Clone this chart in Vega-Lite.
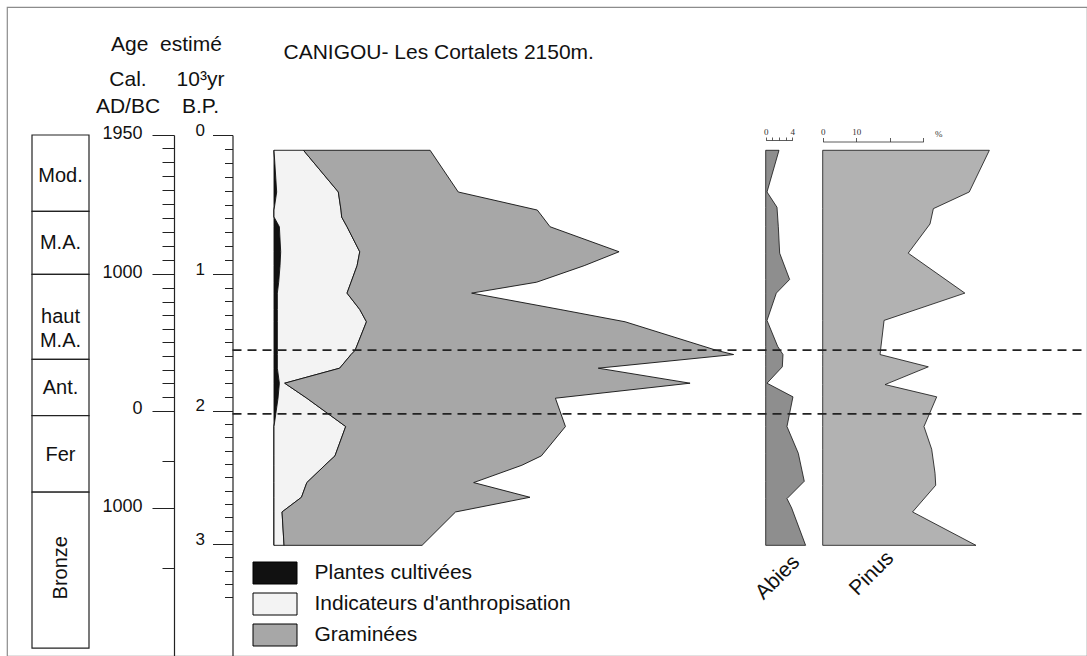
{
 "$schema": "https://vega.github.io/schema/vega-lite/v6.json",
 "width": 1080,
 "height": 649,
 "autosize": {"type": "none"},
 "padding": {"left": 7, "top": 7, "right": 0, "bottom": 0},
 "background": "#ffffff",
 "config": {
  "view": {"stroke": "#8c8c8c", "strokeWidth": 1.2},
  "font": "Liberation Sans",
  "axis": {"grid": false, "labelFont": "Liberation Sans", "titleFont": "Liberation Sans", "titleFontWeight": "normal", "titleColor": "#111111", "labelColor": "#111111", "labelOverlap": false, "labelFlush": false, "labelBound": false, "domainColor": "#222222", "tickColor": "#222222"}
 },
 "datasets": {
  "periods": [
   {"name": "Mod.", "start": 1950, "end": 1450},
   {"name": "M.A.", "start": 1450, "end": 1000},
   {"name": "haut\nM.A.", "start": 1000, "end": 375},
   {"name": "Ant.", "start": 375, "end": -50},
   {"name": "Fer", "start": -50, "end": -830},
   {"name": "Bronze", "start": -830, "end": -2170}
  ],
  "main": [
   {"age": 0.11, "taxon": "Plantes cultivées", "pct": 0}, {"age": 0.11, "taxon": "Indicateurs d'anthropisation", "pct": 4.4}, {"age": 0.11, "taxon": "Graminées", "pct": 18.9},
   {"age": 0.41, "taxon": "Plantes cultivées", "pct": 0.4}, {"age": 0.41, "taxon": "Indicateurs d'anthropisation", "pct": 9.2}, {"age": 0.41, "taxon": "Graminées", "pct": 17.9},
   {"age": 0.54, "taxon": "Plantes cultivées", "pct": 0}, {"age": 0.54, "taxon": "Indicateurs d'anthropisation", "pct": 10.0}, {"age": 0.54, "taxon": "Graminées", "pct": 29.3},
   {"age": 0.59, "taxon": "Plantes cultivées", "pct": 0}, {"age": 0.59, "taxon": "Indicateurs d'anthropisation", "pct": 10.1}, {"age": 0.59, "taxon": "Graminées", "pct": 30.0},
   {"age": 0.66, "taxon": "Plantes cultivées", "pct": 0.8}, {"age": 0.66, "taxon": "Indicateurs d'anthropisation", "pct": 10.1}, {"age": 0.66, "taxon": "Graminées", "pct": 30.3},
   {"age": 0.84, "taxon": "Plantes cultivées", "pct": 1.0}, {"age": 0.84, "taxon": "Indicateurs d'anthropisation", "pct": 11.8}, {"age": 0.84, "taxon": "Graminées", "pct": 38.7},
   {"age": 0.94, "taxon": "Plantes cultivées", "pct": 0.9}, {"age": 0.94, "taxon": "Indicateurs d'anthropisation", "pct": 11.5}, {"age": 0.94, "taxon": "Graminées", "pct": 33.9},
   {"age": 1.06, "taxon": "Plantes cultivées", "pct": 0.7}, {"age": 1.06, "taxon": "Indicateurs d'anthropisation", "pct": 10.8}, {"age": 1.06, "taxon": "Graminées", "pct": 27.7},
   {"age": 1.14, "taxon": "Plantes cultivées", "pct": 0.5}, {"age": 1.14, "taxon": "Indicateurs d'anthropisation", "pct": 10.4}, {"age": 1.14, "taxon": "Graminées", "pct": 18.6},
   {"age": 1.26, "taxon": "Plantes cultivées", "pct": 0.5}, {"age": 1.26, "taxon": "Indicateurs d'anthropisation", "pct": 12.3}, {"age": 1.26, "taxon": "Graminées", "pct": 29.9},
   {"age": 1.35, "taxon": "Plantes cultivées", "pct": 0.5}, {"age": 1.35, "taxon": "Indicateurs d'anthropisation", "pct": 13.3}, {"age": 1.35, "taxon": "Graminées", "pct": 38.6},
   {"age": 1.56, "taxon": "Plantes cultivées", "pct": 0.5}, {"age": 1.56, "taxon": "Indicateurs d'anthropisation", "pct": 11.6}, {"age": 1.56, "taxon": "Graminées", "pct": 54.0},
   {"age": 1.59, "taxon": "Plantes cultivées", "pct": 0.5}, {"age": 1.59, "taxon": "Indicateurs d'anthropisation", "pct": 11.0}, {"age": 1.59, "taxon": "Graminées", "pct": 57.1},
   {"age": 1.69, "taxon": "Plantes cultivées", "pct": 0.5}, {"age": 1.69, "taxon": "Indicateurs d'anthropisation", "pct": 9.3}, {"age": 1.69, "taxon": "Graminées", "pct": 38.6},
   {"age": 1.80, "taxon": "Plantes cultivées", "pct": 0.8}, {"age": 1.80, "taxon": "Indicateurs d'anthropisation", "pct": 0.8}, {"age": 1.80, "taxon": "Graminées", "pct": 60.5},
   {"age": 1.91, "taxon": "Plantes cultivées", "pct": 0.6}, {"age": 1.91, "taxon": "Indicateurs d'anthropisation", "pct": 4.3}, {"age": 1.91, "taxon": "Graminées", "pct": 37.1},
   {"age": 2.12, "taxon": "Plantes cultivées", "pct": 0}, {"age": 2.12, "taxon": "Indicateurs d'anthropisation", "pct": 10.7}, {"age": 2.12, "taxon": "Graminées", "pct": 32.8},
   {"age": 2.34, "taxon": "Plantes cultivées", "pct": 0}, {"age": 2.34, "taxon": "Indicateurs d'anthropisation", "pct": 9.1}, {"age": 2.34, "taxon": "Graminées", "pct": 30.8},
   {"age": 2.41, "taxon": "Plantes cultivées", "pct": 0}, {"age": 2.41, "taxon": "Indicateurs d'anthropisation", "pct": 7.6}, {"age": 2.41, "taxon": "Graminées", "pct": 29.4},
   {"age": 2.54, "taxon": "Plantes cultivées", "pct": 0}, {"age": 2.54, "taxon": "Indicateurs d'anthropisation", "pct": 4.9}, {"age": 2.54, "taxon": "Graminées", "pct": 24.9},
   {"age": 2.65, "taxon": "Plantes cultivées", "pct": 0}, {"age": 2.65, "taxon": "Indicateurs d'anthropisation", "pct": 4.1}, {"age": 2.65, "taxon": "Graminées", "pct": 34.1},
   {"age": 2.76, "taxon": "Plantes cultivées", "pct": 0}, {"age": 2.76, "taxon": "Indicateurs d'anthropisation", "pct": 1.2}, {"age": 2.76, "taxon": "Graminées", "pct": 25.9},
   {"age": 3.01, "taxon": "Plantes cultivées", "pct": 0}, {"age": 3.01, "taxon": "Indicateurs d'anthropisation", "pct": 1.5}, {"age": 3.01, "taxon": "Graminées", "pct": 20.6}
  ],
  "abies": [
   {"age": 0.11, "pct": 2.0}, {"age": 0.41, "pct": 0.2}, {"age": 0.52, "pct": 1.7}, {"age": 0.66, "pct": 1.9},
   {"age": 0.85, "pct": 2.1}, {"age": 1.04, "pct": 3.6}, {"age": 1.14, "pct": 1.6}, {"age": 1.34, "pct": 0.2},
   {"age": 1.53, "pct": 1.8}, {"age": 1.59, "pct": 2.6}, {"age": 1.68, "pct": 2.5}, {"age": 1.80, "pct": 0.2},
   {"age": 1.90, "pct": 4.1}, {"age": 2.12, "pct": 3.2}, {"age": 2.32, "pct": 4.9}, {"age": 2.53, "pct": 5.8},
   {"age": 2.66, "pct": 3.2}, {"age": 2.73, "pct": 3.9}, {"age": 3.01, "pct": 6.0}
  ],
  "pinus": [
   {"age": 0.11, "pct": 49.7}, {"age": 0.41, "pct": 43.7}, {"age": 0.53, "pct": 33.0}, {"age": 0.64, "pct": 32.0},
   {"age": 0.85, "pct": 25.5}, {"age": 1.14, "pct": 42.4}, {"age": 1.34, "pct": 18.3}, {"age": 1.59, "pct": 17.1},
   {"age": 1.68, "pct": 31.5}, {"age": 1.81, "pct": 18.6}, {"age": 1.90, "pct": 34.0}, {"age": 2.12, "pct": 30.2},
   {"age": 2.29, "pct": 32.5}, {"age": 2.47, "pct": 33.5}, {"age": 2.56, "pct": 33.7}, {"age": 2.76, "pct": 26.8},
   {"age": 3.01, "pct": 45.7}
  ],
  "cuts": [{"limit": "haut", "age": 1.557}, {"limit": "bas", "age": 2.026}]
 },
 "layer": [
  {
   "data": {"name": "periods"},
   "mark": {"type": "rect", "fill": "#ffffff", "stroke": "#222222", "strokeWidth": 1.2},
   "encoding": {
    "y": {"field": "start", "type": "quantitative",
     "scale": {"domain": [1950, 1900, 1000, 0, -500, -1000, -1500, -2250], "range": [128, 141.3, 267.3, 403.5, 454, 501.3, 560.7, 650.7], "nice": false, "zero": false},
     "axis": {"orient": "left", "offset": -167,
      "values": [1950, 1000, 0, -1000],
      "tickSize": 22,
      "labelExpr": "format(abs(datum.value), 'd')",
      "labelFontSize": 18, "labelPadding": 10, "labelBaseline": "middle", "labelOffset": -2,
      "tickWidth": 1, "domainWidth": 1.2,
      "title": ["Cal.", "AD/BC"], "titleAngle": 0, "titleX": -46.5, "titleY": 78, "titleAlign": "center", "titleBaseline": "alphabetic", "titleFontSize": 21, "titleLineHeight": 27}
    },
    "y2": {"field": "end"},
    "x": {"datum": 0, "type": "quantitative", "scale": {"domain": [0, 1], "range": [25, 82], "nice": false, "zero": false},
     "axis": {"orient": "top", "domain": false, "ticks": false, "labels": false, "title": "Age\u00a0 estimé", "titleX": 159, "titleY": 43, "titleAlign": "center", "titleBaseline": "alphabetic", "titleFontSize": 21, "titleAngle": 0}},
    "x2": {"datum": 1}
   }
  },
  {
   "data": {"name": "periods"},
   "transform": [{"filter": "datum.name !== 'Bronze'"}, {"calculate": "(datum.start + datum.end) / 2", "as": "mid"}],
   "mark": {"type": "text", "fontSize": 20, "align": "center", "baseline": "middle", "lineBreak": "\n", "lineHeight": 24, "color": "#111111", "font": "Liberation Sans"},
   "encoding": {
    "y": {"field": "mid", "type": "quantitative", "scale": {"domain": [1950, 1900, 1000, 0, -500, -1000, -1500, -2250], "range": [128, 141.3, 267.3, 403.5, 454, 501.3, 560.7, 650.7], "nice": false, "zero": false},
     "axis": {"orient": "left", "offset": -167, "domain": false, "labels": false, "title": null,
      "values": [1900, 1800, 1700, 1600, 1500, 1400, 1300, 1200, 1100, 900, 800, 700, 600, 500, 400, 300, 200, 100, -500, -1500],
      "tickSize": 12, "tickWidth": 1}},
    "x": {"datum": 0.5, "type": "quantitative", "scale": {"domain": [0, 1], "range": [25, 82], "nice": false, "zero": false}, "axis": null},
    "text": {"field": "name"}
   }
  },
  {
   "data": {"name": "periods"},
   "transform": [{"filter": "datum.name === 'Bronze'"}, {"calculate": "(datum.start + datum.end) / 2", "as": "mid"}],
   "mark": {"type": "text", "fontSize": 20, "align": "center", "baseline": "middle", "angle": 270, "color": "#111111", "font": "Liberation Sans"},
   "encoding": {
    "y": {"field": "mid", "type": "quantitative", "scale": {"domain": [1950, 1900, 1000, 0, -500, -1000, -1500, -2250], "range": [128, 141.3, 267.3, 403.5, 454, 501.3, 560.7, 650.7], "nice": false, "zero": false}, "axis": null},
    "x": {"datum": 0.5, "type": "quantitative", "scale": {"domain": [0, 1], "range": [25, 82], "nice": false, "zero": false}, "axis": null},
    "text": {"field": "name"}
   }
  },
  {
   "data": {"name": "main"},
   "mark": {"type": "area", "orient": "horizontal", "stroke": "#111111", "strokeWidth": 0.9, "opacity": 1, "interpolate": "linear"},
   "encoding": {
    "y": {"field": "age", "type": "quantitative",
     "scale": {"domain": [0, 1, 2, 3, 3.9], "range": [128, 267, 403.5, 537, 657.2], "nice": false, "zero": false},
     "axis": {"orient": "left", "offset": -225.5,
      "values": [0, 1, 2, 3],
      "tickSize": 20,
      "format": "d",
      "labelFontSize": 17, "labelPadding": 8, "labelBaseline": "middle", "labelOffset": -5,
      "tickWidth": 1, "domainWidth": 1.2,
      "title": ["10³yr", "B.P."], "titleAngle": 0, "titleX": -32.5, "titleY": 78, "titleAlign": "center", "titleBaseline": "alphabetic", "titleFontSize": 21, "titleLineHeight": 27}
    },
    "x": {"field": "pct", "type": "quantitative", "stack": "zero",
     "scale": {"domain": [0, 100], "range": [267, 937], "nice": false, "zero": false},
     "axis": {"orient": "top", "domain": false, "ticks": false, "labels": false, "title": "CANIGOU- Les Cortalets 2150m.", "titleX": 276, "titleY": 51, "titleAlign": "left", "titleBaseline": "alphabetic", "titleFontSize": 21, "titleAngle": 0}},
    "order": {"field": "taxon", "sort": "descending"},
    "color": {"field": "taxon", "type": "nominal",
     "sort": ["Plantes cultivées", "Indicateurs d'anthropisation", "Graminées"],
     "scale": {"domain": ["Plantes cultivées", "Indicateurs d'anthropisation", "Graminées"], "range": ["#111111", "#f3f3f3", "#a7a7a7"]},
     "legend": {"orient": "none", "legendX": 256.5, "legendY": 554.5, "title": null, "padding": 0,
      "symbolType": "M-2,-1H2V1H-2Z", "symbolSize": 484, "symbolStrokeColor": "#000000", "symbolStrokeWidth": 1, "symbolOpacity": 1,
      "labelFont": "Liberation Sans", "labelFontSize": 21, "labelColor": "#111111", "labelOffset": 28, "rowPadding": 4, "labelLimit": 400}}
   }
  },
  {
   "data": {"name": "abies"},
   "mark": {"type": "area", "orient": "horizontal", "fill": "#8e8e8e", "stroke": "#111111", "strokeWidth": 0.8, "opacity": 1},
   "encoding": {
    "y": {"field": "age", "type": "quantitative", "scale": {"domain": [0, 1, 2, 3, 3.9], "range": [128, 267, 403.5, 537, 657.2], "nice": false, "zero": false},
     "axis": {"orient": "left", "offset": -225.5, "domain": false, "labels": false, "title": null,
      "values": [0.1, 0.2, 0.3, 0.4, 0.5, 0.6, 0.7, 0.8, 0.9, 1.1, 1.2, 1.3, 1.4, 1.5, 1.6, 1.7, 1.8, 1.9, 2.1, 2.2, 2.3, 2.4, 2.5, 2.6, 2.7, 2.8, 2.9, 3.1, 3.2, 3.3, 3.4],
      "tickSize": 8, "tickWidth": 1}},
    "x": {"field": "pct", "type": "quantitative",
     "scale": {"domain": [0, 4], "range": [758.7, 785.3], "nice": false, "zero": false},
     "axis": {"orient": "top", "offset": -133, "values": [0, 1, 2, 3, 4], "tickSize": 3,
      "labelExpr": "datum.value == 0 || datum.value == 4 ? datum.label : ''",
      "labelFont": "Liberation Serif", "labelFontSize": 9, "labelPadding": 1, "labelColor": "#333333",
      "domainColor": "#333333", "tickColor": "#333333", "domainWidth": 0.8, "tickWidth": 0.8,
      "title": "Abies", "titleAngle": 315, "titleX": 756, "titleY": 460, "titleAlign": "left", "titleBaseline": "alphabetic", "titleFontSize": 21}}
   }
  },
  {
   "data": {"name": "pinus"},
   "mark": {"type": "area", "orient": "horizontal", "fill": "#b2b2b2", "stroke": "#111111", "strokeWidth": 0.8, "opacity": 1},
   "encoding": {
    "y": {"field": "age", "type": "quantitative", "scale": {"domain": [0, 1, 2, 3, 3.9], "range": [128, 267, 403.5, 537, 657.2], "nice": false, "zero": false}, "axis": null},
    "x": {"field": "pct", "type": "quantitative",
     "scale": {"domain": [0, 30], "range": [815.7, 916.3], "nice": false, "zero": false},
     "axis": {"orient": "top", "offset": -134.5, "values": [0, 10, 20, 30],
      "tickSize": 4,
      "labelExpr": "datum.value <= 10 ? datum.label : ''",
      "labelFont": "Liberation Serif", "labelFontSize": 9, "labelPadding": 1, "labelColor": "#333333",
      "domainColor": "#333333", "tickColor": "#333333", "domainWidth": 0.8, "tickWidth": 0.8,
      "title": "Pinus", "titleAngle": 315, "titleX": 850, "titleY": 454.5, "titleAlign": "left", "titleBaseline": "alphabetic", "titleFontSize": 21}}
   }
  },
  {
   "data": {"name": "cuts"},
   "mark": {"type": "rule", "stroke": "#222222", "strokeWidth": 1.8, "strokeDash": [9, 6]},
   "encoding": {
    "y": {"field": "age", "type": "quantitative", "scale": {"domain": [0, 1, 2, 3, 3.9], "range": [128, 267, 403.5, 537, 657.2], "nice": false, "zero": false}, "axis": null},
    "x": {"datum": 0, "type": "quantitative", "scale": {"domain": [0, 1], "range": [225.5, 1080], "nice": false, "zero": false},
     "axis": {"orient": "top", "offset": -134.5, "domain": false, "ticks": false, "labels": false,
      "title": "%", "titleX": 931.3, "titleY": -5, "titleAlign": "center", "titleBaseline": "alphabetic", "titleAngle": 0,
      "titleFont": "Liberation Serif", "titleFontSize": 9, "titleColor": "#333333"}},
    "x2": {"datum": 1}
   }
  }
 ],
 "resolve": {"scale": {"x": "independent", "y": "independent"}, "axis": {"x": "independent", "y": "independent"}}
}
